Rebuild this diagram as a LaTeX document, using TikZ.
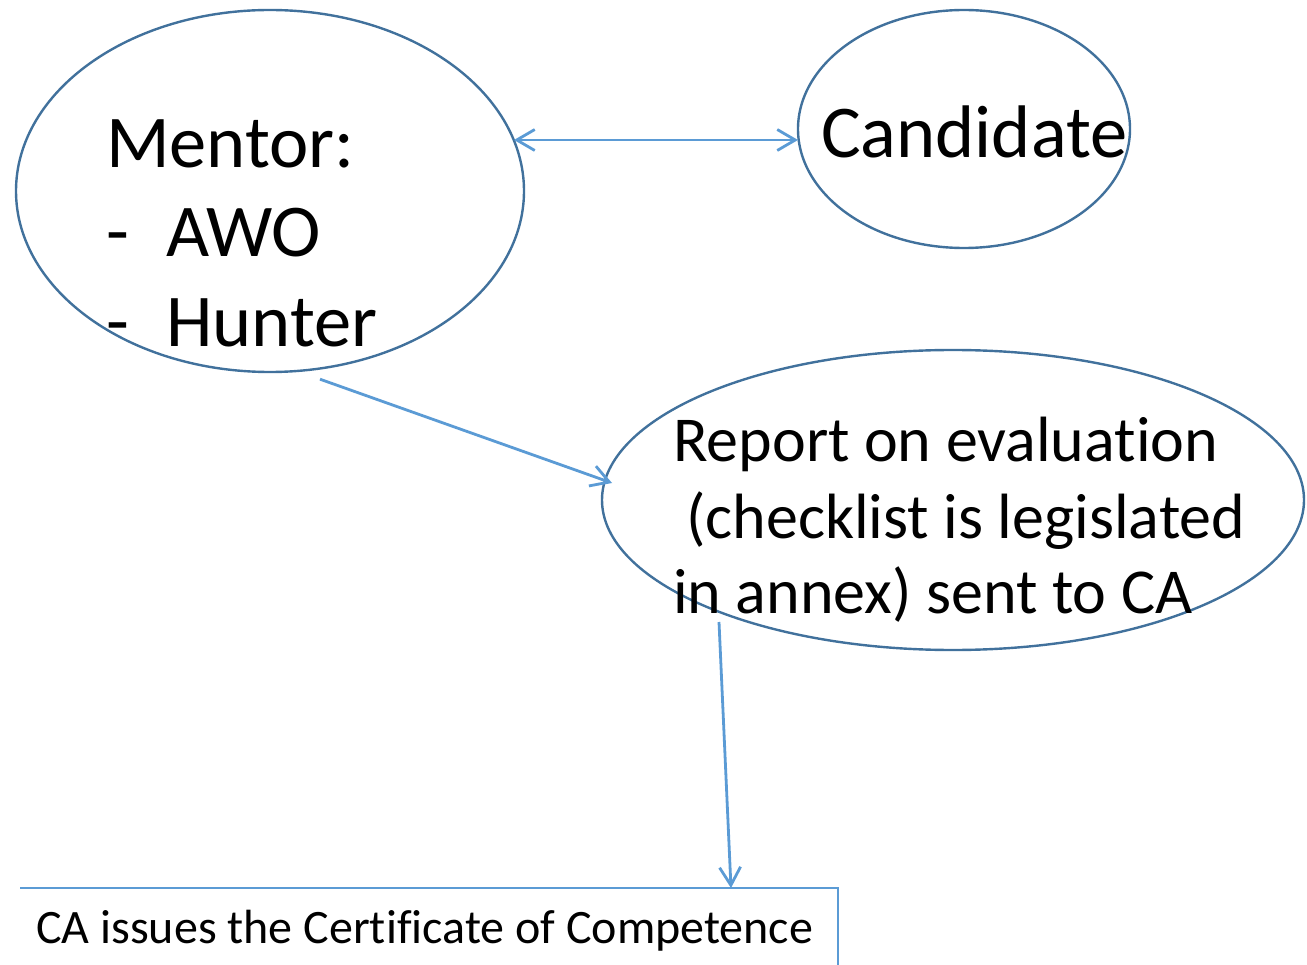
\documentclass[tikz,border=0pt]{standalone}
\usepackage{fontspec}
\setmainfont{Carlito}[Ligatures={NoCommon}]
\usetikzlibrary{shapes.geometric,arrows.meta}
\definecolor{ellblue}{HTML}{41719C}
\definecolor{arrblue}{HTML}{5B9BD5}
\tikzset{
  ell/.style={ellipse, draw=ellblue, line width=2.4pt, inner sep=0pt},
  conn/.style={draw=arrblue, line width=2.8pt, -{Straight Barb[length=18pt,width=21pt,line width=2.8pt]}},
  txt/.style={anchor=base west, inner sep=0pt, text=black},
  bigtxt/.style={txt, font=\fontsize{74.5}{89}\selectfont},
  midtxt/.style={txt, font=\fontsize{64}{76}\selectfont},
  smalltxt/.style={txt, font=\fontsize{48}{57}\selectfont},
  boxline/.style={draw=arrblue, line width=1.9pt}
}
\begin{document}
\begin{tikzpicture}[x=1pt,y=-1pt]
\useasboundingbox (0,0) rectangle (1307,965);
% ellipses
\node[ell, minimum width=508pt, minimum height=362pt] (mentor) at (270,191) {};
\node[ell, minimum width=332pt, minimum height=238pt] (cand) at (964,129) {};
\node[ell, minimum width=702pt, minimum height=300pt] (report) at (953,500) {};
% box (top and right edges only)
\node[minimum width=818pt, minimum height=77pt, anchor=north west, inner sep=0pt] (box) at (20,888) {};
\draw[boxline] (box.north west) -- (box.north east) -- (box.south east);
% texts
\node[bigtxt] (m1) at (106,168) {Mentor:};
\node[bigtxt] (m2) at (106,257) {-};
\node[bigtxt] (m3) at (166,257) {AWO};
\node[bigtxt] (m4) at (106,347) {-};
\node[bigtxt] (m5) at (166,347) {Hunter};
\node[bigtxt] (c1) at (821,158) {Candidate};
\node[midtxt] (r1) at (673,462) {Report on evaluation};
\node[midtxt] (r2) at (686,538) {(checklist is legislated};
\node[midtxt] (r3) at (673,613) {in annex) sent to CA};
\node[smalltxt] (b1) at (36,943) {CA issues the Certificate of Competence};
% connectors
\draw[conn, {Straight Barb[length=18pt,width=21pt,line width=2.8pt]}-{Straight Barb[length=18pt,width=21pt,line width=2.8pt]}] ([shift={(244pt,51pt)}]mentor.center) -- ([shift={(-166pt,-11pt)}]cand.center);
\draw[conn] ([shift={(50pt,-6pt)}]mentor.south) -- ([shift={(-341pt,17pt)}]report.center);
\draw[conn] ([shift={(-234pt,-122pt)}]report.center) -- ([xshift=711pt]box.north west);
\end{tikzpicture}
\end{document}
